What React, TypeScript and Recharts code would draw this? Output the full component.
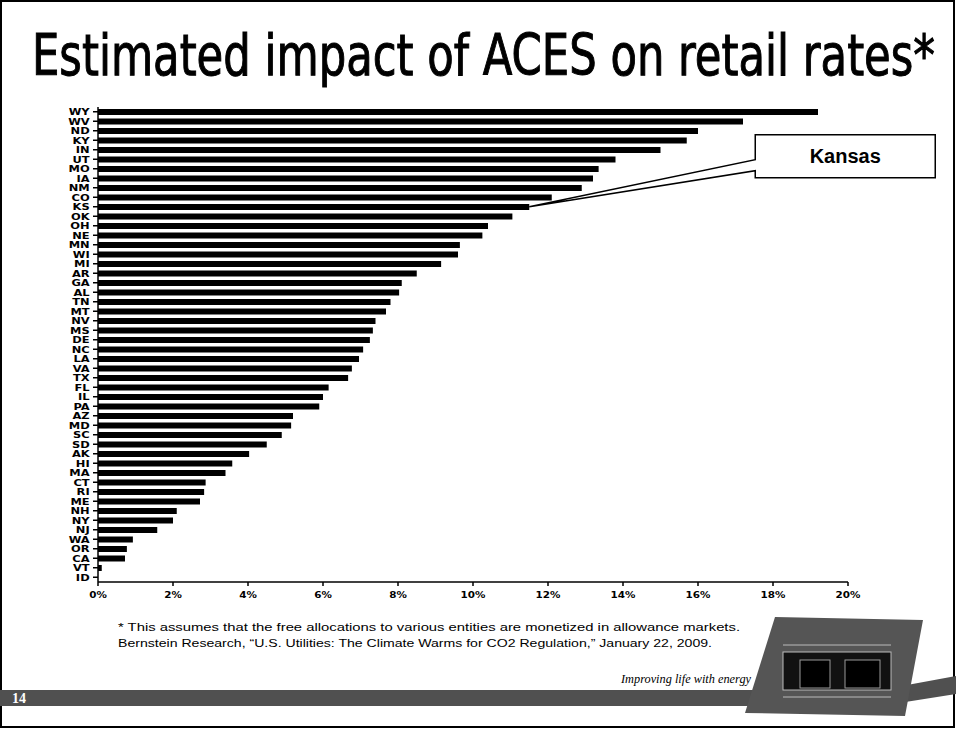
import { BarChart, Bar, XAxis, YAxis, ReferenceDot } from 'recharts';

const states = [
  'WY', 'WV', 'ND', 'KY', 'IN', 'UT', 'MO', 'IA', 'NM', 'CO',
  'KS', 'OK', 'OH', 'NE', 'MN', 'WI', 'MI', 'AR', 'GA', 'AL',
  'TN', 'MT', 'NV', 'MS', 'DE', 'NC', 'LA', 'VA', 'TX', 'FL',
  'IL', 'PA', 'AZ', 'MD', 'SC', 'SD', 'AK', 'HI', 'MA', 'CT',
  'RI', 'ME', 'NH', 'NY', 'NJ', 'WA', 'OR', 'CA', 'VT', 'ID',
];

// % increase in retail rates
const impact = [
  19.2, 17.2, 16.0, 15.7, 15.0, 13.8, 13.35, 13.2, 12.9, 12.1,
  11.5, 11.05, 10.4, 10.25, 9.65, 9.6, 9.15, 8.5, 8.1, 8.03,
  7.8, 7.68, 7.4, 7.33, 7.25, 7.07, 6.96, 6.77, 6.67, 6.15,
  6.0, 5.9, 5.2, 5.15, 4.9, 4.5, 4.03, 3.58, 3.4, 2.87,
  2.83, 2.72, 2.1, 2.0, 1.58, 0.93, 0.77, 0.72, 0.1, 0,
];

const xTicks = [0, 2, 4, 6, 8, 10, 12, 14, 16, 18, 20];

const calloutState = 'KS';
const calloutLabel = 'Kansas';

const data = states.map((s, i) => ({ state: s, value: impact[i] }));
const calloutValue = impact[states.indexOf(calloutState)];

const tickFont = '"DejaVu Sans", sans-serif';

function StateTick(props: any) {
  const { x, y, payload } = props;
  return (
    <g transform={`translate(${x},${y}) scale(1.35,1)`}>
      <text x={-1} y={0} dy={3.5} textAnchor="end" fontFamily={tickFont} fontWeight="bold" fontSize={8.5} fill="#000">
        {payload.value}
      </text>
    </g>
  );
}

function PctTick(props: any) {
  const { x, y, payload } = props;
  return (
    <g transform={`translate(${x},${y}) scale(1.3,1)`}>
      <text x={0} y={0} dy={10} textAnchor="middle" fontFamily={tickFont} fontWeight="bold" fontSize={8} fill="#000">
        {`${payload.value}%`}
      </text>
    </g>
  );
}

function Callout(props: any) {
  const { cx, cy } = props;
  const bx = cx + 226;
  const top = cy - 72;
  const w = 180;
  const h = 43;
  const d = `M${cx},${cy} L${bx},${cy - 47} L${bx},${top} L${bx + w},${top} L${bx + w},${top + h} L${bx},${top + h} L${bx},${cy - 36} Z`;
  return (
    <g>
      <path d={d} fill="#fff" stroke="#000" strokeWidth={1.5} />
      <text x={bx + w / 2} y={top + h / 2 + 7} textAnchor="middle" fontFamily='"Liberation Sans", Arial, sans-serif' fontWeight="bold" fontSize={20} fill="#000">
        {calloutLabel}
      </text>
    </g>
  );
}

export default function App() {
  return (
    <div style={{ position: 'absolute', left: 0, top: 0, width: 956, height: 729, background: '#fff', overflow: 'hidden' }}>
      <svg width={956} height={729} style={{ position: 'absolute', left: 0, top: 0 }}>
        <rect x={1} y={1} width={953} height={726} fill="none" stroke="#000" strokeWidth={2} />
        <g transform="translate(32,75) scale(1,1.43)">
          <text x={0} y={0} textLength={903} lengthAdjust="spacingAndGlyphs" fontFamily='"Liberation Sans Narrow", "DejaVu Sans Condensed", "Liberation Sans", sans-serif' fontSize={40} fill="#000" stroke="#000" strokeWidth={0.7}>
            Estimated impact of ACES on retail rates*
          </text>
        </g>
        <text x={118} y={631} textLength={622} lengthAdjust="spacingAndGlyphs" fontFamily='"Liberation Sans", Arial, sans-serif' fontSize={11.5} fill="#000">
          * This assumes that the free allocations to various entities are monetized in allowance markets.
        </text>
        <text x={118} y={647} textLength={594} lengthAdjust="spacingAndGlyphs" fontFamily='"Liberation Sans", Arial, sans-serif' fontSize={11.5} fill="#000">
          Bernstein Research, “U.S. Utilities: The Climate Warms for CO2 Regulation,” January 22, 2009.
        </text>
        <rect x={0} y={690} width={780} height={16} fill="#505050" />
        <polygon points="880,690 956,676 956,694 880,706" fill="#505050" />
        <text x={12} y={703} fontFamily='"Liberation Serif", serif' fontWeight="bold" fontSize={14} fill="#fff">14</text>
        <polygon points="775,617 923,620 905,716 745,713" fill="#555" />
        <rect x={783} y={652} width={108} height={38} fill="#111" stroke="#bbb" strokeWidth={1} />
        <rect x={800} y={660} width={30} height={28} fill="#000" stroke="#999" strokeWidth={1} />
        <rect x={845} y={660} width={35} height={28} fill="#000" stroke="#999" strokeWidth={1} />
        <line x1={783} y1={645} x2={891} y2={645} stroke="#bbb" strokeWidth={1} />
        <line x1={783} y1={697} x2={891} y2={697} stroke="#bbb" strokeWidth={1} />
        <text x={621} y={683} textLength={130} lengthAdjust="spacingAndGlyphs" fontFamily='"Liberation Serif", serif' fontStyle="italic" fontSize={13} fill="#000">
          Improving life with energy
        </text>
      </svg>
      <div style={{ position: 'absolute', left: 0, top: 0 }}>
        <BarChart
          width={956}
          height={729}
          data={data}
          layout="vertical"
          margin={{ top: 107, right: 108, bottom: 117, left: 0 }}
          barSize={6}
        >
          <XAxis
            type="number"
            domain={[0, 20]}
            ticks={xTicks}
            interval={0}
            height={30}
            tick={<PctTick />}
            tickSize={4}
            axisLine={{ stroke: '#000', strokeWidth: 1.5 }}
            tickLine={{ stroke: '#000', strokeWidth: 1.5 }}
          />
          <YAxis
            type="category"
            dataKey="state"
            width={98}
            interval={0}
            tick={<StateTick />}
            tickSize={5}
            axisLine={{ stroke: '#000', strokeWidth: 1.5 }}
            tickLine={{ stroke: '#000', strokeWidth: 1.5 }}
          />
          <Bar dataKey="value" fill="#000" isAnimationActive={false} />
          <ReferenceDot x={calloutValue} y={calloutState} r={0} ifOverflow="visible" shape={(p: any) => <Callout {...p} />} />
        </BarChart>
      </div>
    </div>
  );
}
